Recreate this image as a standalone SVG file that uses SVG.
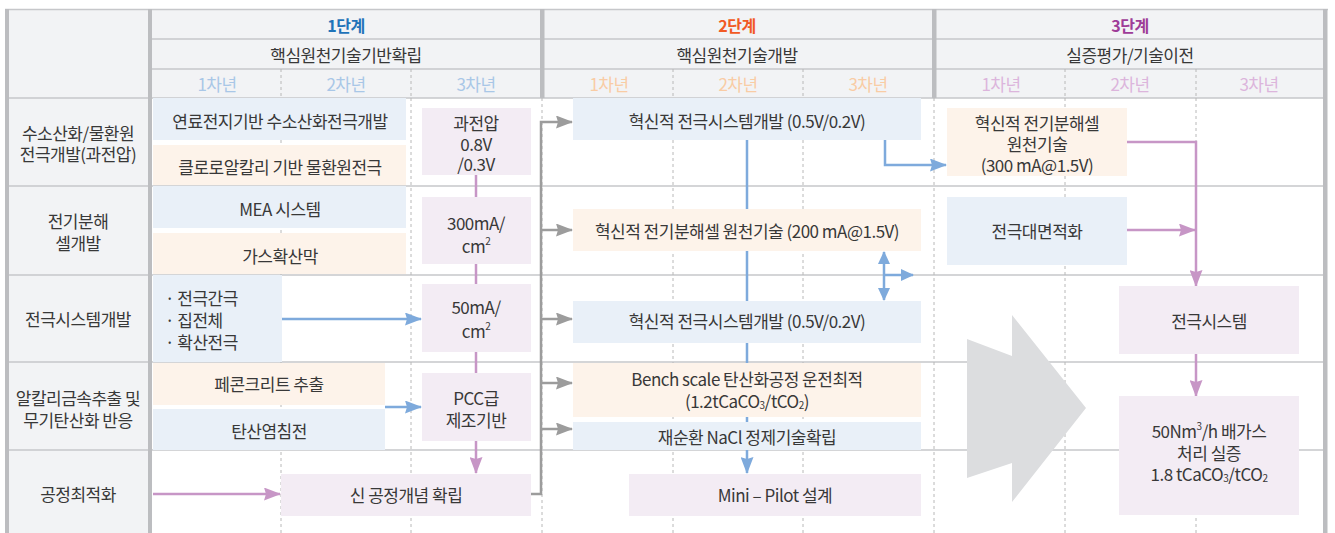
<svg xmlns="http://www.w3.org/2000/svg" width="1335" height="533" viewBox="0 0 1335 533">
<style>
.t{font-family:"Noto Sans CJK KR","Noto Sans",sans-serif;font-size:17px;letter-spacing:-0.5px;fill:#383838;text-anchor:middle;dominant-baseline:central}
.tl{text-anchor:start}
.ph{font-weight:bold;font-size:16px}
.bg{fill:#f2f3f5}
.bar{fill:#bcbdc0}
.hl{stroke:#c6c7ca;stroke-width:1.5;fill:none}
.dl{stroke:#b8b8b8;stroke-width:1;stroke-dasharray:3 3;fill:none}
.bl{fill:#e9f0f8}
.or{fill:#fdf3ea}
.pk{fill:#f3ecf4}
.cb{stroke:#7eaadc;stroke-width:2.5;fill:none}
.cp{stroke:#c796c6;stroke-width:2.5;fill:none}
.cg{stroke:#9c9c9c;stroke-width:2.5;fill:none}
</style>
<defs>
<marker id="ab" markerUnits="userSpaceOnUse" viewBox="0 0 17 13" refX="16" refY="6.5" markerWidth="17" markerHeight="13" orient="auto"><path d="M0,0 L17,6.5 L0,13 L2,6.5 z" fill="#7eaadc"/></marker>
<marker id="abs" markerUnits="userSpaceOnUse" viewBox="0 0 13 12" refX="12" refY="6" markerWidth="13" markerHeight="12" orient="auto-start-reverse"><path d="M0,0 L13,6 L0,12 z" fill="#7eaadc"/></marker>
<marker id="ap" markerUnits="userSpaceOnUse" viewBox="0 0 17 13" refX="16" refY="6.5" markerWidth="17" markerHeight="13" orient="auto"><path d="M0,0 L17,6.5 L0,13 L2,6.5 z" fill="#c796c6"/></marker>
<marker id="ag" markerUnits="userSpaceOnUse" viewBox="0 0 17 13" refX="16" refY="6.5" markerWidth="17" markerHeight="13" orient="auto"><path d="M0,0 L17,6.5 L0,13 L2,6.5 z" fill="#9c9c9c"/></marker>
</defs>

<g id="grid">
<rect class="bg" x="9" y="9" width="1314" height="89"/>
<rect class="bg" x="9" y="98" width="139" height="435"/>
<path class="hl" d="M5,9.5 H1328"/>
<path class="hl" d="M152,39 H1323 M152,69 H1323"/>
<path class="hl" d="M9,98 H1323 M9,186 H1323 M9,275 H1323 M9,362 H1323 M9,450 H1323"/>
<path class="dl" d="M281,69 V98 M411,69 V98 M673,69 V98 M803,69 V98 M1065,69 V98 M1196,69 V98"/>
<path class="dl" d="M281,98 V533 M411,98 V533 M542,98 V533 M673,98 V533 M803,98 V533 M934,98 V533 M1065,98 V533 M1196,98 V533"/>
<rect class="bar" x="5" y="9" width="4" height="524"/>
<rect class="bar" x="148" y="9" width="4" height="524"/>
<rect class="bar" x="540" y="9" width="4.5" height="89"/>
<rect class="bar" x="932" y="9" width="4.5" height="89"/>
<rect class="bar" x="1323" y="9" width="4.5" height="524"/>
</g>

<g id="header">
<text class="t ph" x="346" y="25" style="fill:#1f73b9">1단계</text>
<text class="t ph" x="737" y="25" style="fill:#f15a24">2단계</text>
<text class="t ph" x="1130" y="25" style="fill:#9e3c98">3단계</text>
<text class="t" x="346" y="54">핵심원천기술기반확립</text>
<text class="t" x="737" y="54">핵심원천기술개발</text>
<text class="t" x="1130" y="54">실증평가/기술이전</text>
<text class="t" x="217" y="83" style="fill:#a9c7e7">1차년</text>
<text class="t" x="346" y="83" style="fill:#a9c7e7">2차년</text>
<text class="t" x="476" y="83" style="fill:#a9c7e7">3차년</text>
<text class="t" x="609" y="83" style="fill:#f9cca5">1차년</text>
<text class="t" x="738" y="83" style="fill:#f9cca5">2차년</text>
<text class="t" x="868" y="83" style="fill:#f9cca5">3차년</text>
<text class="t" x="1001" y="83" style="fill:#dcb5dc">1차년</text>
<text class="t" x="1130" y="83" style="fill:#dcb5dc">2차년</text>
<text class="t" x="1259" y="83" style="fill:#dcb5dc">3차년</text>
</g>

<g id="rowlabels">
<text class="t" x="78" y="132">수소산화/물환원</text>
<text class="t" x="78" y="153">전극개발(과전압)</text>
<text class="t" x="78" y="220">전기분해</text>
<text class="t" x="78" y="242">셀개발</text>
<text class="t" x="78" y="318">전극시스템개발</text>
<text class="t" x="78" y="397">알칼리금속추출 및</text>
<text class="t" x="78" y="419">무기탄산화 반응</text>
<text class="t" x="78" y="493">공정최적화</text>
</g>

<g id="connectors">
<path class="cb" d="M282,319 H421" marker-end="url(#ab)"/>
<path class="cb" d="M385,407 H421" marker-end="url(#ab)"/>
<path class="cp" d="M153,494 H280" marker-end="url(#ap)"/>
<path class="cp" d="M476,175 V473" marker-end="url(#ap)"/>
<path class="cg" d="M531,494 H541 V122 H572" marker-end="url(#ag)"/>
<path class="cg" d="M541,230 H572" marker-end="url(#ag)"/>
<path class="cg" d="M541,319 H572" marker-end="url(#ag)"/>
<path class="cg" d="M541,383 H572" marker-end="url(#ag)"/>
<path class="cg" d="M541,429 H572" marker-end="url(#ag)"/>
<path class="cb" d="M747,140 V473" marker-end="url(#ab)"/>
<path class="cb" d="M885,140 V165 H946" marker-end="url(#ab)"/>
<path class="cb" d="M884,252 V300" marker-start="url(#abs)" marker-end="url(#abs)"/>
<path class="cb" d="M884,275 H913" marker-end="url(#abs)"/>
<path class="cp" d="M1127,142 H1196 V286" marker-end="url(#ap)"/>
<path class="cp" d="M1127,230 H1195" marker-end="url(#ap)"/>
<path class="cp" d="M1196,354 V396" marker-end="url(#ap)"/>
</g>

<g id="n-fuelcell"><rect class="bl" x="153" y="98" width="253" height="42"/><text class="t" x="280" y="120">연료전지기반 수소산화전극개발</text></g>
<g id="n-chloro"><rect class="or" x="153" y="145" width="253" height="40"/><text class="t" x="280" y="166">클로로알칼리 기반 물환원전극</text></g>
<g id="n-overvolt"><rect class="pk" x="422" y="108" width="109" height="67"/><text class="t" x="476" y="122">과전압</text><text class="t" x="476" y="143">0.8V</text><text class="t" x="476" y="163">/0.3V</text></g>
<g id="n-mea"><rect class="bl" x="153" y="186" width="253" height="42"/><text class="t" x="280" y="208">MEA 시스템</text></g>
<g id="n-gdl"><rect class="or" x="153" y="233" width="253" height="41"/><text class="t" x="280" y="255">가스확산막</text></g>
<g id="n-300ma"><rect class="pk" x="422" y="197" width="109" height="67"/><text class="t" x="476" y="222">300mA/</text><text class="t" x="476" y="245">cm<tspan font-size="10" dy="-5">2</tspan></text></g>
<g id="n-items"><rect class="bl" x="153" y="275" width="129" height="87"/><text class="t tl" x="165" y="297">· 전극간극</text><text class="t tl" x="165" y="319">· 집전체</text><text class="t tl" x="165" y="341">· 확산전극</text></g>
<g id="n-50ma"><rect class="pk" x="422" y="284" width="109" height="68"/><text class="t" x="476" y="306">50mA/</text><text class="t" x="476" y="330">cm<tspan font-size="10" dy="-5">2</tspan></text></g>
<g id="n-concrete"><rect class="or" x="153" y="363" width="232" height="42"/><text class="t" x="269" y="383">페콘크리트 추출</text></g>
<g id="n-carbonate"><rect class="bl" x="153" y="409" width="232" height="41"/><text class="t" x="269" y="430">탄산염침전</text></g>
<g id="n-pcc"><rect class="pk" x="422" y="373" width="109" height="68"/><text class="t" x="476" y="397">PCC급</text><text class="t" x="476" y="419">제조기반</text></g>
<g id="n-newprocess"><rect class="pk" x="281" y="474" width="250" height="42"/><text class="t" x="406" y="494">신 공정개념 확립</text></g>

<g id="n-elec-sys1"><rect class="bl" x="573" y="98" width="348" height="42"/><text class="t" x="747" y="120">혁신적 전극시스템개발 (0.5V/0.2V)</text></g>
<g id="n-cell200"><rect class="or" x="573" y="209" width="348" height="42"/><text class="t" x="747" y="230">혁신적 전기분해셀 원천기술 (200 mA@1.5V)</text></g>
<g id="n-elec-sys2"><rect class="bl" x="573" y="301" width="348" height="42"/><text class="t" x="747" y="320">혁신적 전극시스템개발 (0.5V/0.2V)</text></g>
<g id="n-bench"><rect class="or" x="573" y="363" width="348" height="54"/><text class="t" x="747" y="378">Bench scale 탄산화공정 운전최적</text><text class="t" x="747" y="400">(1.2tCaCO<tspan font-size="10" dy="4">3</tspan><tspan dy="-4">/tCO</tspan><tspan font-size="10" dy="4">2</tspan><tspan dy="-4">)</tspan></text></g>
<g id="n-nacl"><rect class="bl" x="573" y="422" width="348" height="28"/><text class="t" x="747" y="436">재순환 NaCl 정제기술확립</text></g>
<g id="n-pilot"><rect class="pk" x="629" y="474" width="292" height="42"/><text class="t" x="775" y="494">Mini – Pilot 설계</text></g>

<g id="n-cell300"><rect class="or" x="947" y="108" width="180" height="68"/><text class="t" x="1037" y="122">혁신적 전기분해셀</text><text class="t" x="1037" y="143">원천기술</text><text class="t" x="1037" y="164">(300 mA@1.5V)</text></g>
<g id="n-largearea"><rect class="bl" x="947" y="197" width="180" height="68"/><text class="t" x="1037" y="230">전극대면적화</text></g>
<g id="n-elecsystem"><rect class="pk" x="1119" y="286" width="180" height="68"/><text class="t" x="1209" y="320">전극시스템</text></g>
<g id="n-demo"><rect class="pk" x="1119" y="396" width="180" height="119"/><text class="t" x="1209" y="430">50Nm<tspan font-size="10" dy="-5">3</tspan><tspan dy="5">/h 배가스</tspan></text><text class="t" x="1209" y="452">처리 실증</text><text class="t" x="1209" y="473">1.8 tCaCO<tspan font-size="10" dy="4">3</tspan><tspan dy="-4">/tCO</tspan><tspan font-size="10" dy="4">2</tspan></text></g>

<g id="big-arrow"><polygon points="967,339 1012,356 1012,315 1086,408 1012,502 1012,463 967,478" fill="#dcdddf"/></g>
</svg>
